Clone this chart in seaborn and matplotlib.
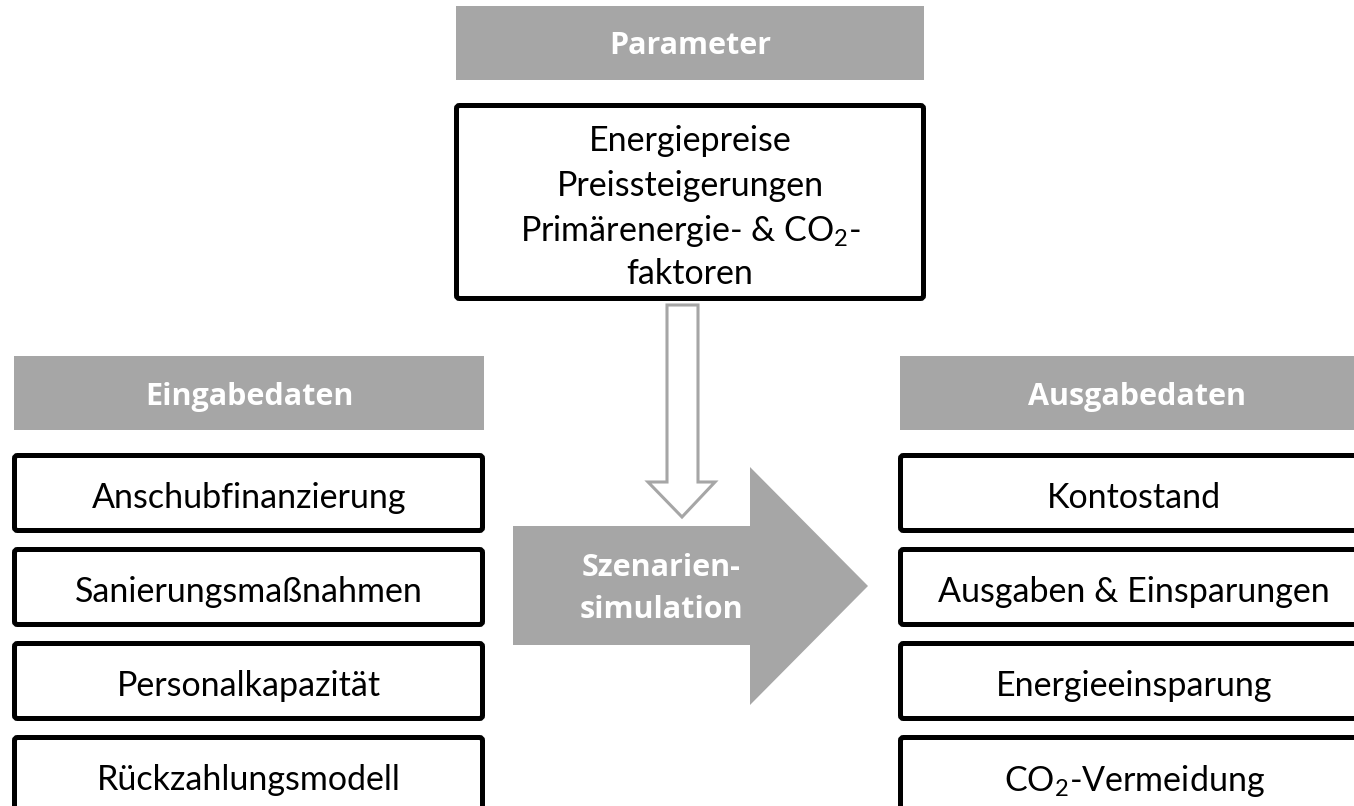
import matplotlib
matplotlib.use("Agg")
import matplotlib.pyplot as plt
import seaborn as sns
from matplotlib.patches import Rectangle, Polygon, FancyBboxPatch

sns.set_theme(style="white")
plt.rcParams['font.family'] = ['Lato', 'DejaVu Sans']

# diagram texts
header_labels = ["Parameter", "Eingabedaten", "Ausgabedaten"]
parameter_lines = ["Energiepreise", "Preissteigerungen",
                   "Primärenergie- & CO$_\\mathregular{2}$-", "faktoren"]
input_labels = ["Anschubfinanzierung", "Sanierungsmaßnahmen",
                "Personalkapazität", "Rückzahlungsmodell"]
output_labels = ["Kontostand", "Ausgaben & Einsparungen",
                 "Energieeinsparung", "CO$_\\mathregular{2}$-Vermeidung"]
center_label = "Szenarien-\nsimulation"

grey = "#a6a6a6"
W, H = 1354, 806

fig = plt.figure(figsize=(W / 100, H / 100), dpi=100)
ax = fig.add_axes([0, 0, 1, 1])
ax.set_xlim(0, W)
ax.set_ylim(H, 0)
ax.axis("off")

body_size = 24.5
head_size = 22
lw = 3.6


def header(x0, x1, y0, label):
    ax.add_patch(Rectangle((x0, y0), x1 - x0, 74, color=grey, lw=0))
    ax.text((x0 + x1) / 2, y0 + 37, label, ha="center", va="center_baseline",
            color="white", fontsize=head_size, fontweight="bold",
            family=["Open Sans", "DejaVu Sans"])


def box(x0, x1, y0, y1):
    p = FancyBboxPatch((x0 + 2.5, y0 + 2.5), x1 - x0 - 5, y1 - y0 - 5,
                       boxstyle="round,pad=0,rounding_size=3",
                       fc="white", ec="black", lw=lw)
    ax.add_patch(p)


# parameter block
header(456, 924, 6, header_labels[0])
box(454, 926, 103, 301)
for i, line in enumerate(parameter_lines):
    ax.text(690, 138 + i * 44.5, line, ha="center", va="center_baseline",
            fontsize=body_size, color="black")

# column headers
header(14, 484, 356, header_labels[1])
header(900, W + 20, 356, header_labels[2])

# input / output boxes
row_top = 453
row_step = 94
row_h = 80
for i, lab in enumerate(input_labels):
    y0 = row_top + i * row_step
    box(12, 485, y0, y0 + row_h)
    ax.text(249, y0 + row_h / 2 + 2, lab, ha="center", va="center_baseline",
            fontsize=body_size, color="black")
for i, lab in enumerate(output_labels):
    y0 = row_top + i * row_step
    box(898, W + 20, y0, y0 + row_h)
    ax.text(1134, y0 + row_h / 2 + 2, lab, ha="center", va="center_baseline",
            fontsize=body_size, color="black")

# hollow arrow from parameter down to simulation
ax.add_patch(Polygon([(667, 305), (698, 305), (698, 482), (715, 482),
                      (682, 517), (648, 482), (667, 482)],
                     closed=True, fc="white", ec=grey, lw=2.2, joinstyle="miter"))

# big simulation arrow
ax.add_patch(Polygon([(513, 526), (750, 526), (750, 467), (868, 586),
                      (750, 705), (750, 645), (513, 645)],
                     closed=True, fc=grey, ec="none"))
ax.text(661, 589, center_label, ha="center", va="center", color="white",
        fontsize=head_size, fontweight="bold", linespacing=1.5,
        family=["Open Sans", "DejaVu Sans"])

fig.savefig("out.png", dpi=100)
